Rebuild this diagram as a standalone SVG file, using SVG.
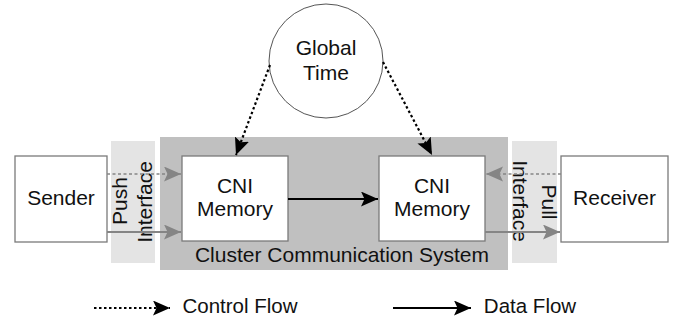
<svg xmlns="http://www.w3.org/2000/svg" width="685" height="322" viewBox="0 0 685 322">
<style>
text{font-family:"Liberation Sans",Arial,sans-serif;font-size:21px;fill:#111;text-anchor:middle}
.box{fill:#fff;stroke:#7a7a7a;stroke-width:1.3}
.band{fill:#e4e4e4}
.blk{stroke:#000;stroke-width:2;fill:none}
.dot{stroke:#000;stroke-width:2.2;fill:none;stroke-dasharray:2.5 2.5}
.gry{stroke:#858585;stroke-width:2;fill:none}
.gdash{stroke:#858585;stroke-width:1.6;fill:none;stroke-dasharray:3 2.5}
</style>
<defs>
<marker id="ab" markerUnits="userSpaceOnUse" markerWidth="18" markerHeight="16" refX="17" refY="7.5" orient="auto"><path d="M0,0 L17,7.5 L0,15 L3.5,7.5 z" fill="#000"/></marker>
<marker id="ag" markerUnits="userSpaceOnUse" markerWidth="18" markerHeight="16" refX="17" refY="7.5" orient="auto"><path d="M0,0 L17,7.5 L0,15 L3.5,7.5 z" fill="#858585"/></marker>
</defs>
<rect x="0" y="0" width="685" height="322" fill="#fff"/>
<g id="cluster">
<rect x="160" y="137" width="348" height="133" fill="#c0c0c0"/>
<text x="342" y="262">Cluster Communication System</text>
</g>
<g id="push-interface">
<rect class="band" x="111" y="141" width="44" height="122"/>
<text transform="translate(127,201) rotate(-90)">Push</text>
<text transform="translate(152,202) rotate(-90)">Interface</text>
</g>
<g id="pull-interface">
<rect class="band" x="512" y="141" width="45" height="122"/>
<text transform="translate(542,202) rotate(90)">Pull</text>
<text transform="translate(513,201) rotate(90)">Interface</text>
</g>
<g id="sender">
<rect class="box" x="15" y="156" width="92" height="86"/>
<text x="61" y="205">Sender</text>
</g>
<g id="receiver">
<rect class="box" x="561" y="156" width="107" height="86"/>
<text x="614.5" y="205">Receiver</text>
</g>
<g id="cni-left">
<rect class="box" x="182" y="156" width="106" height="85"/>
<text x="235" y="193">CNI</text>
<text x="235" y="216">Memory</text>
</g>
<g id="cni-right">
<rect class="box" x="379" y="156" width="106" height="85"/>
<text x="432" y="193">CNI</text>
<text x="432" y="216">Memory</text>
</g>
<g id="global-time">
<circle cx="326" cy="61" r="57" fill="#fff" stroke="#555" stroke-width="1"/>
<text x="326" y="55">Global</text>
<text x="326" y="80">Time</text>
</g>
<g id="connectors">
<line class="dot" x1="270" y1="65" x2="236" y2="155" marker-end="url(#ab)"/>
<line class="dot" x1="383" y1="62" x2="432" y2="155" marker-end="url(#ab)"/>
<line class="blk" x1="288" y1="199" x2="378" y2="199" marker-end="url(#ab)"/>
<line class="gdash" x1="107" y1="174" x2="181" y2="174" marker-end="url(#ag)"/>
<line class="gry" x1="107" y1="232" x2="181" y2="232" marker-end="url(#ag)"/>
<line class="gdash" x1="561" y1="174" x2="486" y2="174" marker-end="url(#ag)"/>
<line class="gry" x1="485" y1="232" x2="560" y2="232" marker-end="url(#ag)"/>
</g>
<g id="legend">
<line class="dot" x1="94" y1="308" x2="170" y2="308" marker-end="url(#ab)"/>
<text x="240" y="313" style="font-size:20.5px">Control Flow</text>
<line class="blk" x1="393" y1="308" x2="471" y2="308" marker-end="url(#ab)"/>
<text x="530" y="313" style="font-size:20.5px">Data Flow</text>
</g>
</svg>
